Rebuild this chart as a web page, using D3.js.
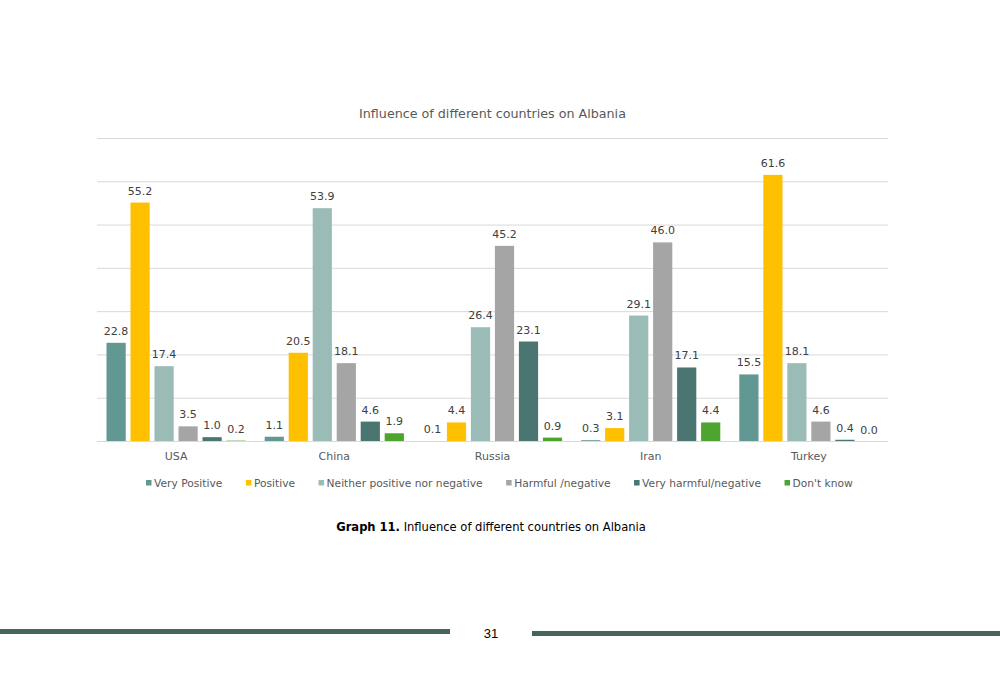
<!DOCTYPE html>
<html>
<head>
<meta charset="utf-8">
<script src="https://cdn.jsdelivr.net/npm/d3@7"></script>
<style>
  body { margin: 0; background: #fff; }
  svg { display: block; font-family: "DejaVu Sans", sans-serif; }
</style>
</head>
<body>
<svg id="chart" width="1000" height="690"></svg>
<script>
// data
const countries = ['USA', 'China', 'Russia', 'Iran', 'Turkey']
const seriesNames = ['Very Positive', 'Positive', 'Neither positive nor negative',
  'Harmful /negative', 'Very harmful/negative', "Don't know"]
const seriesColors = ['#629892', '#ffc000', '#9bbbb7', '#a5a5a5', '#4b7571', '#4da52f']
const veryPositive = [22.8, 1.1, 0.1, 0.3, 15.5]
const positive = [55.2, 20.5, 4.4, 3.1, 61.6]
const neither = [17.4, 53.9, 26.4, 29.1, 18.1]
const harmful = [3.5, 18.1, 45.2, 46.0, 4.6]
const veryHarmful = [1.0, 4.6, 23.1, 17.1, 0.4]
const dontKnow = [0.2, 1.9, 0.9, 4.4, 0.0]
const yTicks = [0, 10, 20, 30, 40, 50, 60, 70]

const seriesValues = [veryPositive, positive, neither, harmful, veryHarmful, dontKnow]

const svg = d3.select('#chart')
const plot = { left: 97, right: 888, top: 138.5, bottom: 441.5 }

const x0 = d3.scaleBand().domain(countries).range([plot.left, plot.right])
const x1 = d3.scaleBand().domain(seriesNames)
  .range([9.5, x0.bandwidth() - 9.5]).paddingInner(0.2)
const y = d3.scaleLinear().domain([0, 70]).range([plot.bottom, plot.top])

// gridlines
svg.append('g')
  .selectAll('line')
  .data(yTicks.slice(1))
  .join('line')
  .attr('x1', plot.left)
  .attr('x2', plot.right)
  .attr('y1', d => y(d))
  .attr('y2', d => y(d))
  .attr('stroke', '#d9d9d9')
  .attr('stroke-width', 1)

// title
svg.append('text')
  .attr('x', (plot.left + plot.right) / 2)
  .attr('y', 118)
  .attr('text-anchor', 'middle')
  .attr('fill', '#595959')
  .style('font-size', '12.7px')
  .text('Influence of different countries on Albania')

// bars
const groups = svg.append('g')
  .selectAll('g')
  .data(countries)
  .join('g')
  .attr('transform', d => `translate(${x0(d)},0)`)

const rows = (c, ci) => seriesNames.map((s, si) => ({ country: c, series: s, si, value: seriesValues[si][ci] }))

groups.selectAll('rect')
  .data((c, ci) => rows(c, ci))
  .join('rect')
  .attr('x', d => x1(d.series))
  .attr('width', x1.bandwidth())
  .attr('y', d => y(d.value))
  .attr('height', d => y(0) - y(d.value))
  .attr('fill', d => seriesColors[d.si])

groups.selectAll('text')
  .data((c, ci) => rows(c, ci))
  .join('text')
  .attr('x', d => x1(d.series) + x1.bandwidth() / 2)
  .attr('y', d => y(d.value) - 8)
  .attr('text-anchor', 'middle')
  .attr('fill', '#404040')
  .style('font-size', '11px')
  .text(d => d.value.toFixed(1))

// baseline + x axis
svg.append('line')
  .attr('x1', plot.left)
  .attr('x2', plot.right)
  .attr('y1', y(0))
  .attr('y2', y(0))
  .attr('stroke', '#d9d9d9')
  .attr('stroke-width', 1)

const xAxis = svg.append('g')
  .attr('transform', `translate(0,${y(0)})`)
  .call(d3.axisBottom(x0).tickSize(0).tickPadding(11))
xAxis.select('.domain').remove()
xAxis.selectAll('text')
  .attr('fill', '#595959')
  .style('font-size', '11px')
  .style('font-family', '"DejaVu Sans", sans-serif')

// legend
const legend = svg.append('g').attr('transform', 'translate(146,483)')
let lx = 0
seriesNames.forEach((name, i) => {
  const item = legend.append('g').attr('transform', `translate(${lx},0)`)
  item.append('rect')
    .attr('x', 0).attr('y', -3)
    .attr('width', 5.5).attr('height', 5.5)
    .attr('fill', seriesColors[i])
  const t = item.append('text')
    .attr('x', 8).attr('y', 4)
    .attr('fill', '#595959')
    .style('font-size', '10.7px')
    .text(name)
  lx += 8 + t.node().getComputedTextLength() + 23.5
})

// caption
const caption = svg.append('text')
  .attr('x', 491)
  .attr('y', 531)
  .attr('text-anchor', 'middle')
  .attr('fill', '#000')
  .style('font-size', '12.8px')
  .style('font-family', '"DejaVu Sans Condensed", "DejaVu Sans", sans-serif')
caption.append('tspan').style('font-weight', 'bold').text('Graph 11.')
caption.append('tspan').text(' Influence of different countries on Albania')

// page footer
svg.append('rect').attr('x', 0).attr('y', 629).attr('width', 450).attr('height', 5).attr('fill', '#46655f')
svg.append('rect').attr('x', 532).attr('y', 631).attr('width', 468).attr('height', 5).attr('fill', '#46655f')
svg.append('text')
  .attr('x', 491)
  .attr('y', 638)
  .attr('text-anchor', 'middle')
  .attr('fill', '#000')
  .style('font-size', '13px')
  .style('font-family', '"Liberation Sans Narrow", "Liberation Sans", sans-serif')
  .text('31')
</script>
</body>
</html>
